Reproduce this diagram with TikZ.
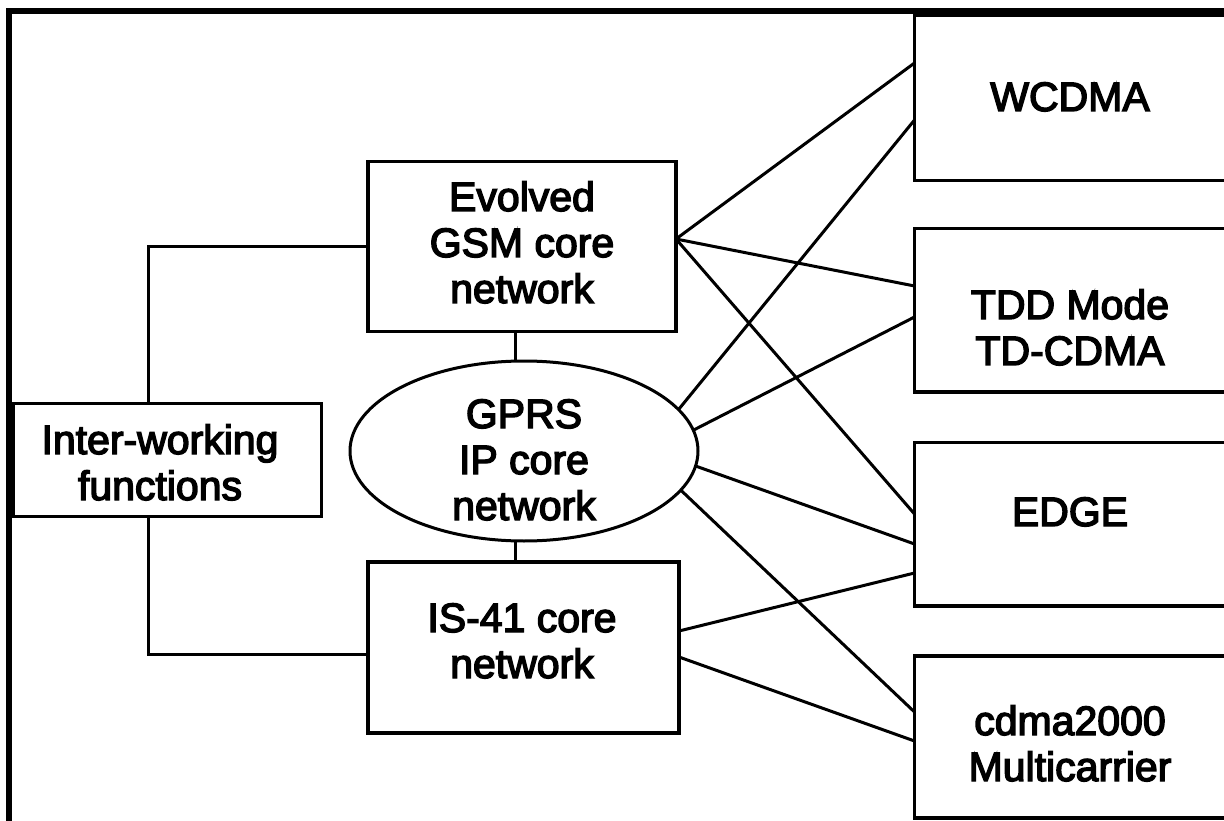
\documentclass[tikz,border=0pt]{standalone}
\usepackage{fontspec}
\setmainfont{Liberation Sans}
\newfontfamily\heavysans{Liberation Sans}[RawFeature={embolden=3.5}]
\usetikzlibrary{shapes.geometric}
\newcommand{\mlines}[1]{\begin{tabular}[t]{@{}c@{}}#1\end{tabular}}
\begin{document}
\begin{tikzpicture}[x=1pt,y=-1pt,
  box/.style={draw, line width=3.5pt, inner sep=0pt, outer sep=0pt},
  oval/.style={draw, ellipse, line width=3pt, inner sep=0pt, outer sep=0pt},
  lbl/.style={anchor=base, inner sep=0pt, font=\heavysans\fontsize{41}{46}\selectfont},
  wire/.style={line width=3pt},
  frame/.style={line width=6pt}]
\useasboundingbox (0,0) rectangle (1224,821);
\clip (0,0) rectangle (1224,821);
% outer frame (cropped)
\draw[frame] (9,821) -- (9,11) -- (1224,11);
% shapes
\node[box, minimum width=308pt, minimum height=170pt] (evolved) at (522,246.5) {};
\node[box, minimum width=311pt, minimum height=171pt] (is41) at (523.5,647.5) {};
\node[box, minimum width=308.5pt, minimum height=113pt] (iwf) at (167.25,460) {};
\node[oval, minimum width=348pt, minimum height=180pt] (gprs) at (524,451) {};
\node[box, minimum width=312pt, minimum height=165.5pt] (wcdma) at (1070.5,97.75) {};
\node[box, minimum width=312pt, minimum height=163.5pt] (tdd) at (1070.5,310.25) {};
\node[box, minimum width=312pt, minimum height=163.5pt] (edge) at (1070.5,524.25) {};
\node[box, minimum width=312pt, minimum height=162pt] (cdma) at (1070.5,737) {};
% labels
\node[lbl] (evolvedtxt) at (522,211) {\mlines{Evolved\\GSM core\\network}};
\node[lbl] (gprstxt) at (524,428) {\mlines{GPRS\\IP core\\network}};
\node[lbl] (is41txt) at (522,632) {\mlines{IS-41 core\\network}};
\node[lbl] (iwftxt) at (160,454) {\mlines{Inter-working\\functions}};
\node[lbl] (wcdmatxt) at (1070,111) {WCDMA};
\node[lbl] (tddtxt) at (1070,319) {\mlines{TDD Mode\\TD-CDMA}};
\node[lbl] (edgetxt) at (1070,526) {EDGE};
\node[lbl] (cdmatxt) at (1070,735) {\mlines{cdma2000\\Multicarrier}};
% ports
\coordinate (vx) at (515,0);
\coordinate (lx) at (148,0);
\coordinate (lb) at (148,654);
\coordinate (ev) at (676,239);
\coordinate (i1) at (679,631);
\coordinate (i2) at (679,657);
\coordinate (w1) at (914.5,63);
\coordinate (w2) at (914.5,120);
\coordinate (t1) at (914.5,286);
\coordinate (t2) at (914.5,317);
\coordinate (e1) at (914.5,514);
\coordinate (e2) at (914.5,544);
\coordinate (e3) at (914.5,573);
\coordinate (c1) at (914.5,712);
\coordinate (c2) at (914.5,741);
% connectors
\draw[wire] (evolved.south -| vx) -- (gprs.north -| vx);
\draw[wire] (gprs.south -| vx) -- (is41.north -| vx);
\draw[wire] (iwf.north -| lx) |- (evolved.west);
\draw[wire] (iwf.south -| lx) -- (lb) -- (lb -| is41.west);
\draw[wire] (ev) -- (w1);
\draw[wire] (ev) -- (t1);
\draw[wire] (ev) -- (e1);
\draw[wire] (gprs.15) -- (w2);
\draw[wire] (gprs.7) -- (t2);
\draw[wire] (gprs.-5) -- (e2);
\draw[wire] (gprs.-14.5) -- (c1);
\draw[wire] (i1) -- (e3);
\draw[wire] (i2) -- (c2);
\end{tikzpicture}
\end{document}
